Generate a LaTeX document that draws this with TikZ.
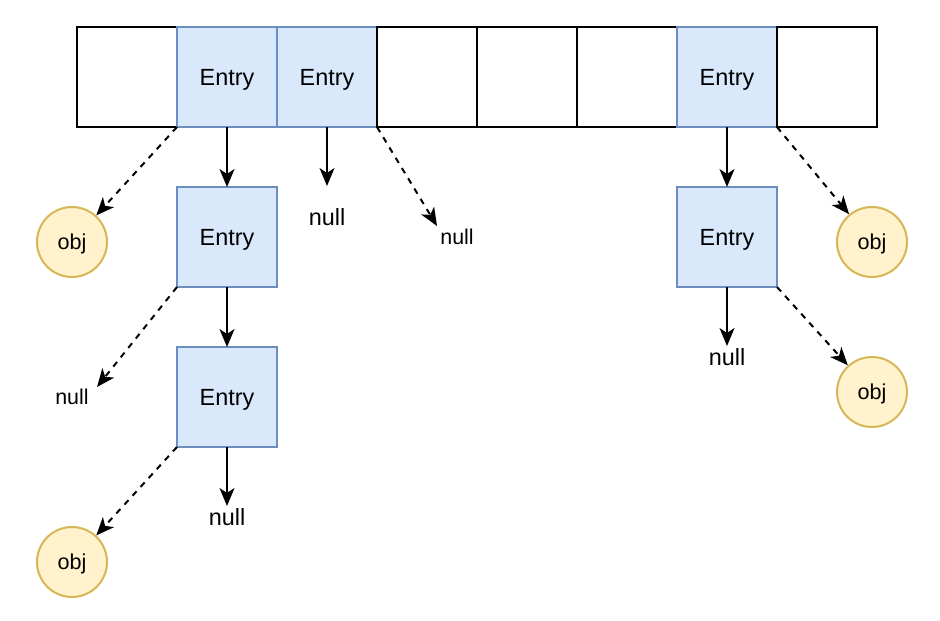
\documentclass[tikz,border=0pt]{standalone}
\usepackage{fontspec}
\setmainfont{Liberation Sans}
\usetikzlibrary{arrows.meta}

\definecolor{entryfill}{HTML}{DAE8FC}
\definecolor{entryline}{HTML}{6C8EBF}
\definecolor{objfill}{HTML}{FFF2CC}
\definecolor{objline}{HTML}{D6B656}

\begin{document}
\begin{tikzpicture}[x=0.5pt,y=-0.5pt,line width=1pt,
        >={Stealth[length=9pt,width=7.5pt,inset=2.5pt]},
        cell/.style={draw,fill=white,minimum size=50pt,inner sep=0pt,outer sep=0pt},
        entry/.style={cell,draw=entryline,fill=entryfill,font=\fontsize{11.7}{14}\selectfont,
            text height=8.4pt,text depth=0pt},
        obj/.style={circle,draw=objline,fill=objfill,minimum size=35pt,inner sep=0pt,
            font=\fontsize{10.8}{13}\selectfont,text height=7.8pt,text depth=0pt},
        bignull/.style={inner sep=0pt,font=\fontsize{11.7}{14}\selectfont,text height=8.4pt,text depth=0pt},
        smallnull/.style={bignull,font=\fontsize{10.7}{13}\selectfont,text height=7.7pt},
        ptr/.style={->},
        weak/.style={->,dash pattern=on 3pt off 3pt}]
            \useasboundingbox (0,0) rectangle (940,620);
            % the table
            \foreach \i/\kind/\txt in {0/cell/,1/entry/Entry,2/entry/Entry,3/cell/,4/cell/,5/cell/,6/entry/Entry,7/cell/}
                \node[\kind] (c\i) at (127+100*\i,77) {\txt};
            % chained entries
            \node[entry] (e1) at (227,237) {Entry};
            \node[entry] (e2) at (227,397) {Entry};
            \node[entry] (e3) at (727,237) {Entry};
            \node[obj] (o1) at (72,242) {obj};
            \node[obj] (o2) at (72,562) {obj};
            \node[obj] (o3) at (872,242) {obj};
            \node[obj] (o4) at (872,392) {obj};
            \node[bignull] (n1) at (327,217) {null};
            \node[smallnull] (n2) at (457,237) {null};
            \node[smallnull] (n3) at (72,397) {null};
            \node[bignull] (n4) at (227,517) {null};
            \node[bignull] (n5) at (727,357) {null};
            % where the arrows to null stop
            \coordinate (t1) at (327,186);
            \coordinate (t2) at (437,226);
            \coordinate (t3) at (97,387);
            \coordinate (t4) at (227,506);
            \coordinate (t5) at (727,346);
            % next pointers
            \draw[ptr] (c1.south) -- (e1.north);
            \draw[ptr] (c2.south) -- (t1);
            \draw[ptr] (e1.south) -- (e2.north);
            \draw[ptr] (e2.south) -- (t4);
            \draw[ptr] (c6.south) -- (e3.north);
            \draw[ptr] (e3.south) -- (t5);
            % weak references
            \draw[weak] (c1.south west) -- (o1);
            \draw[weak] (c2.south east) -- (t2);
            \draw[weak] (e1.south west) -- (t3);
            \draw[weak] (e2.south west) -- (o2);
            \draw[weak] (c6.south east) -- (o3);
            \draw[weak] (e3.south east) -- (o4);
        \end{tikzpicture}
\end{document}
